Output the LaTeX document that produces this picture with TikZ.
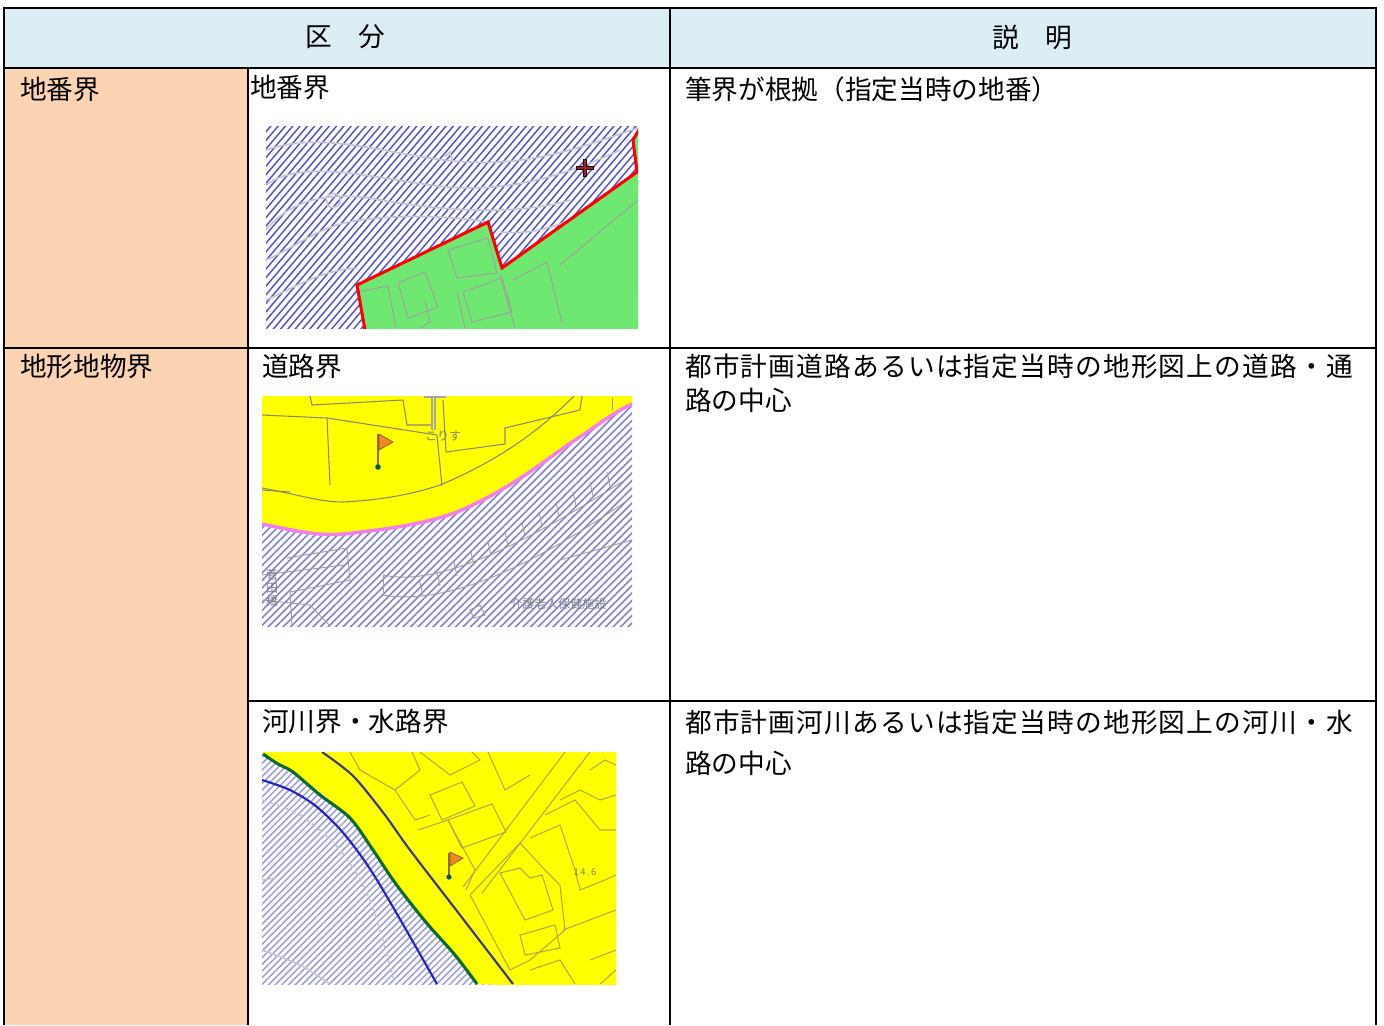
\documentclass[tikz,border=0pt]{standalone}
\usepackage{fontspec}
\newfontfamily\jp{Noto Sans CJK JP}
\newfontfamily\jpls[LetterSpace=4.5]{Noto Sans CJK JP}
\definecolor{hdr}{HTML}{DAEEF3}
\definecolor{peach}{HTML}{FBD4B4}
\definecolor{mapgreen}{HTML}{6EE870}
\definecolor{hatchA}{HTML}{5252D4}
\definecolor{hatchB}{HTML}{8484D4}
\definecolor{hatchC}{HTML}{A0A0E0}
\definecolor{mapyellow}{HTML}{FFFF00}
\definecolor{roadpink}{HTML}{F27EF0}
\definecolor{rivergreen}{HTML}{0B6B2C}
\definecolor{riverblue}{HTML}{2424C0}
\definecolor{navy}{HTML}{3A3A80}
\definecolor{olive}{HTML}{B0A848}
\definecolor{flagor}{HTML}{F08A20}
\definecolor{crossred}{HTML}{B41818}
\begin{document}
\begin{tikzpicture}[x=0.75pt,y=-0.75pt,
  grid/.style={draw=black,line width=1.8pt},
  celltext/.style={font=\jp\fontsize{20pt}{24pt}\selectfont,anchor=west,inner sep=0pt},
  celljust/.style={font=\jpls\fontsize{20pt}{24pt}\selectfont,anchor=west,inner sep=0pt},
  hdrtext/.style={font=\jp\fontsize{20pt}{24pt}\selectfont,inner sep=0pt},
  maptext/.style={font=\jp\fontsize{9pt}{10pt}\selectfont,text=gray,inner sep=0pt},
  hatchlineA/.style={draw=hatchA,line width=1.1pt},
  hatchlineB/.style={draw=hatchB,line width=1.1pt},
  hatchlineC/.style={draw=hatchC,line width=1.15pt},
  contour/.style={draw=gray!45,line width=1.2pt},
  bldg/.style={draw=gray!75,line width=0.7pt},
  ybldg/.style={draw=olive,line width=0.8pt},
  flagpole/.style={draw=brown!80!black,line width=1.4pt},
  flagtri/.style={fill=flagor,draw=brown!70!black,line width=0.5pt},
  flagdot/.style={fill=teal!70!black}
]
\useasboundingbox (0,0) rectangle (1384,1025);
\fill[white] (0,0) rectangle (1384,1025);
\fill[hdr] (4,8) rectangle (1376,68);
\fill[peach] (4,68) rectangle (248,1025);

% ---------------- texts ----------------
\node[hdrtext] (h1) at (345,37) {区\hspace{20pt}分};
\node[hdrtext] (h2) at (1032,37) {説\hspace{20pt}明};
\node[celltext] (a1) at (20,89) {地番界};
\node[celltext] (b1) at (250,87) {地番界};
\node[celltext] (c1) at (685,89) {筆界が根拠（指定当時の地番）};
\node[celltext] (a2) at (20,366) {地形地物界};
\node[celltext] (b2) at (262,366) {道路界};
\node[celljust] (c2) at (685,366) {都市計画道路あるいは指定当時の地形図上の道路・通};
\node[celltext] (c2b) at (685,400) {路の中心};
\node[celltext] (b3) at (262,721) {河川界・水路界};
\node[celljust] (c3) at (685,722) {都市計画河川あるいは指定当時の地形図上の河川・水};
\node[celltext] (c3b) at (685,763) {路の中心};

% ---------------- map 1 ----------------
\begin{scope}
\clip (266,126) rectangle (638,328);
\fill[white] (266,126) rectangle (638,328);
\foreach \i in {0,...,95} \draw[hatchlineA] ({20+7.3*\i},335) -- ++(200,-235);
\draw[contour] (266,150) .. controls (330,128) and (400,160) .. (470,162) .. controls (540,166) and (600,140) .. (638,128);
\draw[contour] (266,185) .. controls (300,160) and (360,175) .. (430,185) .. controls (500,195) and (560,178) .. (620,150);
\draw[contour] (266,230) .. controls (290,200) and (330,190) .. (380,200) .. controls (450,212) and (520,215) .. (570,200);
\draw[contour] (266,260) .. controls (300,245) and (320,225) .. (360,220) .. controls (400,215) and (440,215) .. (488,222);
\draw[contour] (266,300) .. controls (290,290) and (320,270) .. (357,268);
\draw[contour] (326,198) .. controls (330,192) and (338,192) .. (340,198) .. controls (342,205) and (335,210) .. (328,206) -- cycle;
\draw[contour] (445,157) -- (450,152) -- (452,160);
\draw[contour] (500,232) .. controls (530,235) and (560,228) .. (600,205);
\fill[mapgreen] (365,330) -- (357,285) -- (488,222) -- (502,268) -- (637,172) -- (633,140) -- (640,128) -- (640,330) -- cycle;
\draw[bldg] (357,292) -- (388,286) -- (396,328);
\draw[bldg] (398,283) -- (425,272) -- (438,307) -- (408,318) -- cycle;
\draw[bldg] (448,250) -- (488,238) -- (497,273) -- (457,278) -- cycle;
\draw[bldg] (463,292) -- (502,278) -- (512,312) -- (472,322) -- cycle;
\draw[bldg] (513,280) -- (547,262) -- (562,323);
\draw[bldg] (457,292) -- (465,328);
\draw[bldg] (425,300) -- (430,322) -- (420,328);
\draw[bldg] (500,275) -- (515,328);
\draw[bldg] (560,265) -- (638,200);
\draw[red,line width=2.3pt,line join=miter] (365,330) -- (357,285) -- (488,222) -- (502,268) -- (637,172) -- (633,140) -- (640,128);
\end{scope}
\draw[black,line width=2.4pt] (585,159) -- (585,177) (576,168) -- (594,168);
\draw[crossred,line width=1.4pt] (585,160) -- (585,176) (577,168) -- (593,168);

% ---------------- map 2 ----------------
\begin{scope}
\clip (262,396) rectangle (632,626);
\fill[white] (262,396) rectangle (632,626);
\foreach \i in {0,...,95} \draw[hatchlineB] ({20+7.5*\i},635) -- ++(250,-250);
% buildings in hatch area
\draw[bldg] (287,558) -- (347,548) -- (350,580) -- (290,592);
\draw[bldg] (290,592) -- (292,626);
\draw[bldg] (262,575) -- (345,565);
\draw[bldg] (383,575) .. controls (430,585) and (500,560) .. (628,478);
\draw[bldg] (383,595) .. controls (440,605) and (520,575) .. (628,500);
\draw[bldg] (383,575) -- (383,595);
\foreach \k in {0,...,11} \draw[bldg] ({420+17*\k},{582-10*\k}) -- ++(3,14);
\draw[bldg] (262,600) -- (310,605) -- (330,626);
\draw[bldg] (470,610) -- (480,605) -- (485,615) -- (474,618) -- cycle;
\draw[bldg] (560,560) -- (632,540);
% yellow area
\fill[mapyellow] (262,392) -- (636,392) -- (636,402) -- (632,404) .. controls (615,412) and (600,423) .. (583,435) .. controls (550,455) and (520,485) .. (457,512) .. controls (430,522) and (400,528) .. (343,534) .. controls (320,536) and (300,532) .. (262,524) -- cycle;
\draw[ybldg,draw=gray!80!olive] (262,488) .. controls (300,495) and (320,502) .. (343,502) .. controls (380,500) and (410,495) .. (440,485) .. controls (500,460) and (540,430) .. (574,396);
\draw[ybldg,draw=gray!80!olive] (262,415) -- (327,418) -- (330,485);
\draw[ybldg,draw=gray!80!olive] (327,418) -- (437,435) -- (442,486);
\draw[ybldg,draw=gray!80!olive] (310,396) -- (312,405) -- (403,400) -- (407,425) -- (432,425);
\draw[ybldg,draw=gray!80!olive] (443,400) -- (446,452) -- (505,444) -- (505,428) -- (580,410) -- (582,396);
\draw[gray!70,line width=0.8pt] (432,396) -- (432,430) (435,396) -- (435,430);
\draw[gray!70,line width=1.5pt] (424,397) -- (446,397);
\draw[ybldg,draw=gray!80!olive] (262,490) -- (290,492);
\draw[roadpink,line width=2.6pt] (262,524) .. controls (300,532) and (320,536) .. (343,534) .. controls (400,528) and (430,522) .. (457,512) .. controls (520,485) and (550,455) .. (583,435) .. controls (600,423) and (615,412) .. (632,404);
\draw[gray!80,line width=0.7pt] (612,398) -- (612,410);
\end{scope}
\node[maptext] (t21) at (443,436) {こりす};
\node[maptext,align=center,font=\jp\fontsize{9pt}{10pt}\selectfont] (t22) at (272,588) {菅\\田\\橋};
\node[maptext,anchor=west] (t23) at (510,604) {介護老人保健施設};
\draw[flagpole] (378,434) -- (378,467);
\draw[flagtri] (379,434) -- (393,442) -- (379,450) -- cycle;
\fill[flagdot] (378,467) circle (2.8);

% ---------------- map 3 ----------------
\begin{scope}
\clip (262,752) rectangle (616,984);
\fill[white] (262,752) rectangle (616,984);
\foreach \i in {0,...,95} \draw[hatchlineC] ({20+6.7*\i},992) -- ++(250,-250);
\draw[contour,dashed] plot[smooth] coordinates {(262,800) (300,815) (340,850) (370,900) (395,984)};
\draw[contour] plot[smooth] coordinates {(262,950) (300,965) (330,984)};
\draw[contour] (262,880) -- (275,878);
\fill[mapyellow] plot[smooth] coordinates {(263,754) (293,772) (350,818) (393,880) (430,927) (477,984)} -- (620,990) -- (620,748) -- (262,748) -- cycle;
% buildings and roads in yellow area
\draw[ybldg] (463,887) -- (565,752);
\draw[ybldg] (482,893) -- (590,752);
\draw[ybldg] (350,752) -- (360,770) -- (395,790) -- (420,770) -- (412,752);
\draw[ybldg] (395,790) -- (415,820) -- (430,815);
\draw[ybldg] (430,795) -- (462,782) -- (475,806) -- (442,820) -- cycle;
\draw[ybldg] (448,820) -- (492,804) -- (506,832) -- (462,848) -- cycle;
\draw[ybldg] (418,830) -- (448,820) -- (475,870) -- (466,890);
\draw[ybldg] (420,752) -- (450,775) -- (480,760) -- (472,752);
\draw[ybldg] (488,752) -- (505,790) -- (530,775);
\draw[ybldg] (470,895) -- (520,843) -- (545,870) -- (560,885) -- (565,930) -- (530,960) -- (510,970) -- cycle;
\draw[ybldg] (500,873) -- (520,868) -- (530,878) -- (542,875) -- (553,910) -- (525,920) -- cycle;
\draw[ybldg] (520,935) -- (555,925) -- (560,948) -- (525,955) -- cycle;
\draw[ybldg] (530,838) -- (560,825) -- (575,870) -- (580,890) -- (605,880) -- (616,875);
\draw[ybldg] (545,815) -- (575,800) -- (600,830) -- (616,830);
\draw[ybldg] (560,800) -- (580,790) -- (600,800) -- (616,795);
\draw[ybldg] (590,770) -- (605,760) -- (616,765);
\draw[ybldg] (563,930) -- (616,910);
\draw[ybldg] (530,970) -- (560,960) -- (575,984);
\draw[ybldg] (590,960) -- (616,950);
\draw[ybldg] (600,984) -- (616,970);
\draw[riverblue,line width=1.6pt] plot[smooth] coordinates {(262,780) (290,790) (317,807) (345,835) (377,880) (437,984)};
\draw[navy,line width=1.6pt] plot[smooth] coordinates {(322,752) (340,765) (357,780) (385,815) (410,850) (460,915) (513,984)};
\draw[rivergreen,line width=2.3pt] plot[smooth] coordinates {(263,754) (278,764) (293,772) (320,795) (350,818) (373,850) (393,880) (412,905) (430,927) (455,955) (477,984)};
\end{scope}
\node[maptext,font=\jp\fontsize{7pt}{8pt}\selectfont] (t31) at (585,872) {1\,4\,.\,6};
\draw[flagpole] (449,853) -- (449,876);
\draw[flagtri] (450,852) -- (463,858) -- (450,866) -- cycle;
\fill[flagdot] (449,877) circle (2.6);

% ---------------- table grid ----------------
\draw[grid] (4,1025) -- (4,8) -- (1376,8) -- (1376,1025);
\draw[grid] (4,68) -- (1376,68);
\draw[grid] (4,348) -- (1376,348);
\draw[grid] (248,701) -- (1376,701);
\draw[grid] (248,68) -- (248,1025);
\draw[grid] (670,8) -- (670,1025);
\end{tikzpicture}
\end{document}
